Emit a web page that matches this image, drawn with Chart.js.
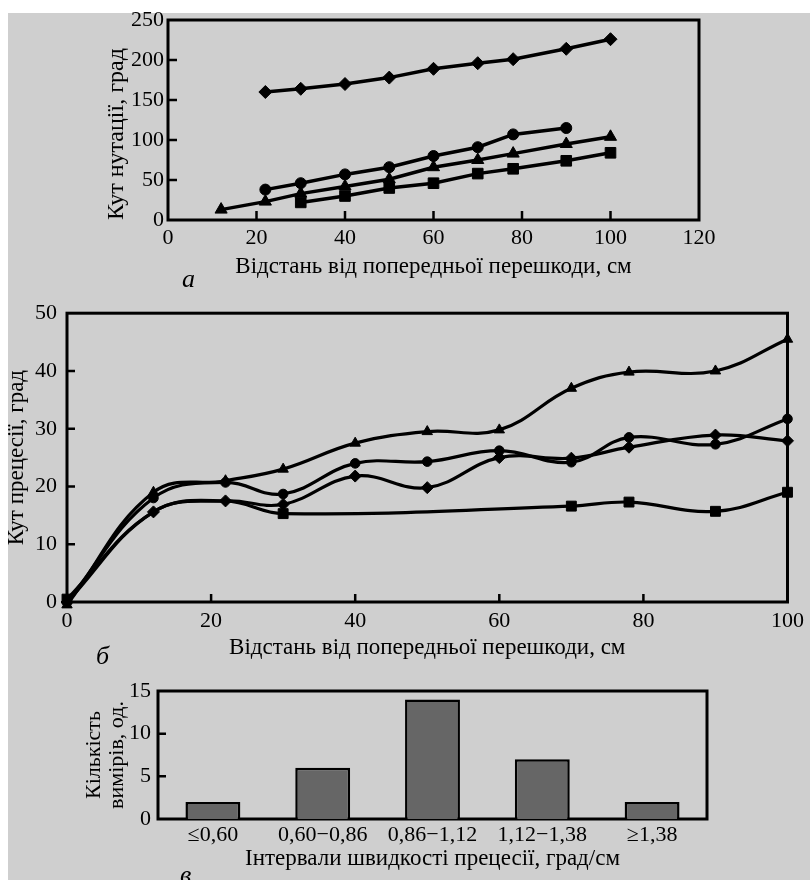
<!DOCTYPE html>
<html>
<head>
<meta charset="utf-8">
<script src="https://cdn.jsdelivr.net/npm/chart.js@4.4.1/dist/chart.umd.min.js"></script>
<style>
  html, body { margin:0; padding:0; background:#fff; width:810px; height:880px; overflow:hidden; }
  #bg { position:absolute; left:8px; top:13px; width:802px; height:867px; background:#cfcfcf; }
  canvas { position:absolute; left:0; }
  .lbl { position:absolute; font-family:"Liberation Serif","DejaVu Serif",serif; font-style:italic; font-size:26px; color:#000; line-height:1; }
</style>
</head>
<body>
<div id="bg"></div>
<canvas id="ca" width="810" height="290" style="top:0px"></canvas>
<canvas id="cb" width="810" height="380" style="top:290px"></canvas>
<canvas id="cc" width="810" height="220" style="top:660px"></canvas>
<span class="lbl" style="left:182px;top:266px">а</span>
<span class="lbl" style="left:96px;top:643px">б</span>
<span class="lbl" style="left:180px;top:862px">в</span>
<script>
// ---------- Chart а: Кут нутації ----------
const aXDiamond = [22, 30, 40, 50, 60, 70, 78, 90, 100];
const aYDiamond = [160, 164, 170, 178, 189, 196, 201, 214, 226];
const aXCircle  = [22, 30, 40, 50, 60, 70, 78, 90];
const aYCircle  = [38, 46, 57, 66, 80, 91, 107, 115];
const aXTriangle = [12, 22, 30, 40, 50, 60, 70, 78, 90, 100];
const aYTriangle = [13, 23, 33, 42, 51, 66, 75, 83, 95, 104];
const aXSquare  = [30, 40, 50, 60, 70, 78, 90, 100];
const aYSquare  = [22, 30, 40, 46, 58, 64, 74, 84];
const aXTitle = 'Відстань від попередньої перешкоди, см';
const aYTitle = 'Кут нутації, град';

// ---------- Chart б: Кут прецесії ----------
const bXTriangle = [0, 12, 22, 30, 40, 50, 60, 70, 78, 90, 100];
const bYTriangle = [-0.5, 19, 21, 23, 27.5, 29.5, 29.8, 37, 39.8, 40, 45.5];
const bXCircle   = [0, 12, 22, 30, 40, 50, 60, 70, 78, 90, 100];
const bYCircle   = [0, 18, 20.7, 18.7, 24, 24.3, 26.2, 24.2, 28.5, 27.3, 31.7];
const bXDiamond  = [0, 12, 22, 30, 40, 50, 60, 70, 78, 90, 100];
const bYDiamond  = [0, 15.6, 17.5, 16.9, 21.8, 19.8, 25, 24.9, 26.8, 28.9, 27.9];
const bXSquare   = [0, 12, 22, 30, 70, 78, 90, 100];
const bYSquare   = [0.5, 15.6, 17.5, 15.3, 16.6, 17.3, 15.7, 19];
const bXTitle = 'Відстань від попередньої перешкоди, см';
const bYTitle = 'Кут прецесії, град';

// ---------- Chart в: гістограма ----------
const cCategories = ['≤0,60', '0,60−0,86', '0,86−1,12', '1,12−1,38', '≥1,38'];
const cCounts = [2, 6, 14, 7, 2];
const cXTitle = 'Інтервали швидкості прецесії, град/см';
const cYTitle = ['Кількість', 'вимірів, од.'];

const FONT = '"Liberation Serif","DejaVu Serif",serif';
const pts = (xs, ys) => xs.map((x, i) => ({x, y: ys[i]}));

const frameTicks = {
  id: 'frameTicks',
  beforeDatasetsDraw(chart, args, o) {
    const {ctx, chartArea: a, scales} = chart;
    ctx.save();
    ctx.strokeStyle = '#000';
    ctx.lineWidth = o.tickWidth;
    ctx.beginPath();
    if (o.xTicks) {
      const xs = scales.x;
      xs.ticks.forEach(t => {
        if (t.value === xs.min || t.value === xs.max) return;
        const px = xs.getPixelForValue(t.value);
        ctx.moveTo(px, a.bottom); ctx.lineTo(px, a.bottom - o.len);
      });
    }
    if (o.yTicks) {
      const ys = scales.y;
      ys.ticks.forEach(t => {
        if (t.value === ys.min || t.value === ys.max) return;
        const py = ys.getPixelForValue(t.value);
        ctx.moveTo(a.left, py); ctx.lineTo(a.left + o.len, py);
      });
    }
    ctx.stroke();
    ctx.lineWidth = o.frameWidth;
    ctx.strokeRect(a.left, a.top, a.right - a.left, a.bottom - a.top);
    ctx.restore();
  }
};

function axis(opts) {
  return Object.assign({
    grid: {display: false, drawTicks: false},
    border: {display: false},
  }, opts);
}

function lineDs(data, style, r, lw) {
  return {data, borderColor: '#000', backgroundColor: '#000', pointBackgroundColor: '#000',
    pointBorderColor: '#000', pointBorderWidth: 1, borderWidth: lw, pointStyle: style,
    pointRadius: r, clip: false};
}

// ---- Chart а ----
new Chart(document.getElementById('ca'), {
  type: 'line',
  data: {datasets: [
    Object.assign(lineDs(pts(aXDiamond, aYDiamond), 'rectRot', 6.5, 3.5), {tension: 0}),
    Object.assign(lineDs(pts(aXCircle, aYCircle), 'circle', 5.5, 3.5), {tension: 0}),
    Object.assign(lineDs(pts(aXTriangle, aYTriangle), 'triangle', 7, 3.5), {tension: 0}),
    Object.assign(lineDs(pts(aXSquare, aYSquare), 'rect', 7.5, 3.5), {tension: 0}),
  ]},
  options: {
    responsive: false, animation: false, devicePixelRatio: 1,
    layout: {padding: {top: 20, right: 111, left: 0, bottom: 0}},
    plugins: {legend: {display: false}, tooltip: {enabled: false},
      frameTicks: {xTicks: true, yTicks: true, len: 9, tickWidth: 2.5, frameWidth: 3}},
    scales: {
      x: axis({type: 'linear', min: 0, max: 120,
        ticks: {stepSize: 20, color: '#000', padding: 5, maxRotation: 0, font: {family: FONT, size: 22}},
        title: {display: true, text: aXTitle, color: '#000', font: {family: FONT, size: 23}, padding: {top: 0, bottom: 9}},
        afterFit: s => { s.height = 70; }}),
      y: axis({type: 'linear', min: 0, max: 250,
        ticks: {stepSize: 50, color: '#000', padding: 4, font: {family: FONT, size: 22}},
        title: {display: true, text: aYTitle, align: 'start', color: '#000', font: {family: FONT, size: 24}, padding: {top: 102, bottom: 0}},
        afterFit: s => { s.width = 168; }}),
    }
  },
  plugins: [frameTicks]
});

// ---- Chart б ----
const T = 0.4;
new Chart(document.getElementById('cb'), {
  type: 'line',
  data: {datasets: [
    Object.assign(lineDs(pts(bXTriangle, bYTriangle), 'triangle', 6, 3.2), {tension: T}),
    Object.assign(lineDs(pts(bXCircle, bYCircle), 'circle', 4.8, 3.2), {tension: T}),
    Object.assign(lineDs(pts(bXDiamond, bYDiamond), 'rectRot', 6, 3.2), {tension: T}),
    Object.assign(lineDs(pts(bXSquare, bYSquare), 'rect', 7, 3.2), {tension: T,
      pointRadius: [7, 0, 0, 7, 7, 7, 7, 7]}),
  ]},
  options: {
    responsive: false, animation: false, devicePixelRatio: 1,
    layout: {padding: {top: 18, right: 19, left: 0, bottom: 0}},
    plugins: {legend: {display: false}, tooltip: {enabled: false},
      frameTicks: {xTicks: true, yTicks: true, len: 8, tickWidth: 2.5, frameWidth: 3}},
    scales: {
      x: axis({type: 'linear', min: 0, max: 100,
        ticks: {stepSize: 20, color: '#000', padding: 6, maxRotation: 0, font: {family: FONT, size: 22}},
        title: {display: true, text: bXTitle, color: '#000', font: {family: FONT, size: 23}, padding: {top: 0, bottom: 8}},
        afterFit: s => { s.height = 68; }}),
      y: axis({type: 'linear', min: 0, max: 50,
        ticks: {stepSize: 10, color: '#000', padding: 10, font: {family: FONT, size: 22}},
        title: {display: true, text: bYTitle, color: '#000', font: {family: FONT, size: 23}, padding: {top: 3, bottom: 0}},
        afterFit: s => { s.width = 67; }}),
    }
  },
  plugins: [frameTicks]
});

// ---- Chart в ----
new Chart(document.getElementById('cc'), {
  type: 'bar',
  data: {labels: cCategories, datasets: [{
    data: cCounts, backgroundColor: '#666666', borderColor: '#000', borderWidth: 2.5,
    borderSkipped: 'start', barPercentage: 0.5, categoryPercentage: 1
  }]},
  options: {
    responsive: false, animation: false, devicePixelRatio: 1,
    layout: {padding: {top: 31, right: 103, left: 0, bottom: 0}},
    plugins: {legend: {display: false}, tooltip: {enabled: false},
      frameTicks: {xTicks: false, yTicks: true, len: 8, tickWidth: 2.5, frameWidth: 3}},
    scales: {
      x: axis({type: 'category',
        ticks: {color: '#000', padding: 3, maxRotation: 0, autoSkip: false, font: {family: FONT, size: 22}},
        title: {display: true, text: cXTitle, color: '#000', font: {family: FONT, size: 23}, padding: {top: 0, bottom: 7}},
        afterFit: s => { s.height = 61; }}),
      y: axis({type: 'linear', min: 0, max: 15,
        ticks: {stepSize: 5, color: '#000', padding: 7, font: {family: FONT, size: 22}},
        title: {display: true, text: cYTitle, color: '#000', font: {family: FONT, size: 22, lineHeight: 1.05}, padding: {top: 83, bottom: 0}},
        afterFit: s => { s.width = 158; }}),
    }
  },
  plugins: [frameTicks]
});
</script>
</body>
</html>
